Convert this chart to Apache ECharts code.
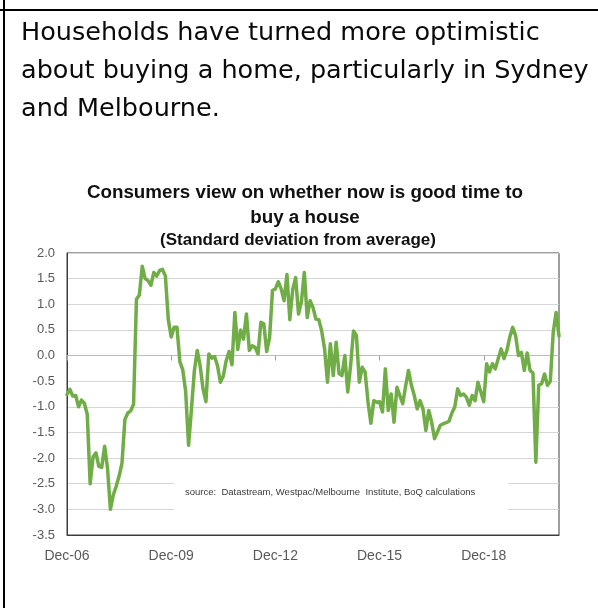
<!DOCTYPE html>
<html>
<head>
<meta charset="utf-8">
<script src="https://cdn.jsdelivr.net/npm/echarts@6/dist/echarts.min.js"></script>
<style>
  html, body { margin: 0; padding: 0; background: #fff; }
  #page { position: relative; width: 598px; height: 608px; overflow: hidden; background: #fff; }
  #rule-left { position: absolute; left: 3px; top: 0; width: 2px; height: 608px; background: #000; }
  #rule-top { position: absolute; left: 0; top: 9px; width: 598px; height: 2px; background: #000; }
  #headline {
    position: absolute; left: 21px; top: 12px; width: 577px;
    font-family: 'DejaVu Sans', sans-serif;
    font-size: 25.5px; line-height: 38px; color: #0a0a0a; white-space: nowrap;
  }
  #chart { position: absolute; left: 0; top: 0; width: 598px; height: 608px; }
</style>
</head>
<body>
<div id="page">
  <div id="chart"></div>
  <div id="rule-left"></div>
  <div id="rule-top"></div>
  <div id="headline">Households have turned more optimistic<br>about buying a home, particularly in Sydney<br>and Melbourne.</div>
</div>
<script>
// Monthly readings, Dec-06 onwards (standard deviations from average)
const FIRST_YEAR = 2006;
const MONTH_NAMES = ['Jan','Feb','Mar','Apr','May','Jun','Jul','Aug','Sep','Oct','Nov','Dec'];
const timeToBuy = [
  -0.76, -0.66, -0.79, -0.78, -1.00, -0.87, -0.93, -1.15, -2.50, -1.98,
  -1.90, -2.16, -2.18, -1.77, -2.20, -3.00, -2.72, -2.55, -2.35, -2.10,
  -1.25, -1.12, -1.08, -0.95,  1.10,  1.18,  1.74,  1.50,  1.46,  1.37,
   1.62,  1.55,  1.66,  1.68,  1.55,  0.70,  0.36,  0.55,  0.55, -0.12,
  -0.28, -0.70, -1.75, -1.05, -0.30,  0.10, -0.20, -0.65, -0.90,  0.03,
  -0.05, -0.02, -0.20, -0.52, -0.40, -0.10,  0.08, -0.18,  0.84,  0.12,
   0.50,  0.32,  0.81,  0.10,  0.19,  0.16,  0.03,  0.65,  0.62,  0.08,
   0.35,  1.27,  1.30,  1.44,  1.30,  1.07,  1.58,  0.70,  1.29,  1.52,
   0.81,  1.05,  1.62,  0.74,  1.07,  0.94,  0.71,  0.70,  0.48,  0.13,
  -0.52,  0.23, -0.39,  0.26, -0.35, -0.39,  0.00, -0.71, -0.19,  0.48,
   0.39, -0.52, -0.23, -0.32, -0.90, -1.32, -0.88, -0.91, -0.90, -1.10,
  -0.26, -1.07, -0.75, -1.30, -0.62, -0.78, -0.94, -0.60, -0.29, -0.58,
  -0.78, -1.04, -0.88, -1.04, -1.46, -1.07, -1.30, -1.62, -1.49, -1.36,
  -1.33, -1.31, -1.28, -1.12, -1.00, -0.65, -0.78, -0.75, -0.81, -0.97,
  -0.78, -0.88, -0.52, -0.71, -0.90, -0.16, -0.32, -0.16, -0.26, -0.06,
   0.13, -0.06,  0.10,  0.36,  0.55,  0.39,  0.00,  0.06, -0.29,  0.05,
  -0.29, -0.34, -2.08, -0.58, -0.55, -0.36, -0.58, -0.50,  0.45,  0.84,
   0.38
];
// Month labels, one per reading, starting December of FIRST_YEAR
const months = timeToBuy.map(function (_, i) {
  const m = (11 + i) % 12;
  const y = FIRST_YEAR + Math.floor((11 + i) / 12);
  return MONTH_NAMES[m] + '-' + String(y % 100).padStart(2, '0');
});
const LABEL_EVERY = 36;   // a label every three years (Dec-06, Dec-09, ...)
const Y_MIN = -3.5, Y_MAX = 2.0, Y_STEP = 0.5;

const chart = echarts.init(document.getElementById('chart'), null, { renderer: 'canvas' });
const showEvery = function (idx) { return idx % LABEL_EVERY === 0; };
const TITLE_FONT = "'Liberation Sans Narrow', 'Arial Narrow', 'Liberation Sans', Arial, sans-serif";
const AXIS_FONT = "'Liberation Sans', Arial, sans-serif";

chart.setOption({
  animation: false,
  backgroundColor: 'transparent',
  title: [
    {
      text: 'Consumers view on whether now is good time to\nbuy a house',
      left: 300, top: 175, textAlign: 'center',
      textStyle: {
        fontFamily: TITLE_FONT, fontWeight: 'bold',
        fontSize: 18.8, lineHeight: 25, color: '#111'
      }
    },
    {
      text: '(Standard deviation from average)',
      left: 293, top: 227, textAlign: 'center',
      textStyle: { fontFamily: TITLE_FONT, fontWeight: 'bold', fontSize: 17, color: '#111' }
    }
  ],
  grid: {
    left: 67, right: 39, top: 253, bottom: 73,
    show: true, borderColor: '#3c3c3c', borderWidth: 1, backgroundColor: 'transparent'
  },
  xAxis: [
    {
      type: 'category', data: months, boundaryGap: false, position: 'bottom',
      axisLine: { onZero: false, lineStyle: { color: '#3c3c3c', width: 1 } },
      axisTick: { show: false },
      axisLabel: {
        interval: showEvery, margin: 14, color: '#595959', fontSize: 14,
        fontFamily: AXIS_FONT
      },
      splitLine: { show: false }
    },
    {
      // zero line with year ticks
      type: 'category', data: months, boundaryGap: false, position: 'bottom',
      axisLine: { onZero: true, lineStyle: { color: '#bdbdbd', width: 1 } },
      axisTick: { show: true, interval: showEvery, length: 5, inside: false, lineStyle: { color: '#a0a0a0' } },
      axisLabel: { show: false },
      splitLine: { show: false }
    }
  ],
  yAxis: {
    type: 'value', min: Y_MIN, max: Y_MAX, interval: Y_STEP,
    axisLine: { show: true, lineStyle: { color: '#3c3c3c', width: 1 } },
    axisTick: { show: false },
    axisLabel: {
      margin: 12, color: '#595959', fontSize: 13, fontFamily: AXIS_FONT,
      formatter: function (v) { return v.toFixed(1); }
    },
    splitLine: { show: true, lineStyle: { color: '#d6d6d6', width: 1 } }
  },
  graphic: [
    {
      type: 'rect', z: 50,
      shape: { x: 174, y: 467, width: 334, height: 56 },
      style: { fill: '#ffffff' }
    },
    {
      type: 'text', z: 51, left: 185, top: 487,
      style: {
        text: 'source:  Datastream, Westpac/Melbourne  Institute, BoQ calculations',
        fill: '#3a3a3a', fontSize: 9.5, fontFamily: AXIS_FONT
      }
    }
  ],
  series: [
    {
      type: 'line', xAxisIndex: 0, data: timeToBuy,
      showSymbol: false, symbol: 'none', smooth: false, z: 60,
      lineStyle: { color: '#70AD47', width: 3.5, join: 'round', cap: 'round' }
    }
  ]
});
</script>
</body>
</html>
